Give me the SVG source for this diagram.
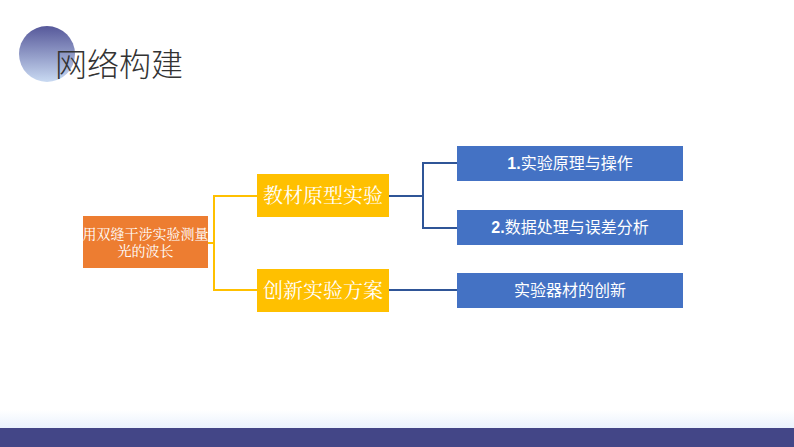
<svg xmlns="http://www.w3.org/2000/svg" width="794" height="447" viewBox="0 0 794 447">
<style>
.serif{font-family:"Liberation Serif","Noto Serif CJK SC","Noto Sans CJK SC",serif;fill:#fff;text-anchor:middle}
.sans{font-family:"Liberation Sans","Noto Sans CJK SC",sans-serif;fill:#fff;text-anchor:middle}
.yl{fill:none;stroke:#FFC000;stroke-width:2}
.bl{fill:none;stroke:#2F5597;stroke-width:2}
</style>
<defs>
<linearGradient id="cg" x1="0" y1="0" x2="0" y2="1">
<stop offset="0" stop-color="#56589a"/>
<stop offset="1" stop-color="#c9daf2"/>
</linearGradient>
<linearGradient id="fg" x1="0" y1="0" x2="0" y2="1">
<stop offset="0" stop-color="#ffffff"/>
<stop offset="1" stop-color="#eaf2fd"/>
</linearGradient>
</defs>
<rect width="794" height="447" fill="#fff"/>
<rect x="0" y="410" width="794" height="18" fill="url(#fg)"/>
<rect x="0" y="428" width="794" height="19" fill="#434687"/>
<g id="title">
<circle cx="47" cy="54" r="28" fill="url(#cg)"/>
<text x="55" y="76" font-family="'Noto Sans CJK SC',sans-serif" font-size="32" font-weight="300" fill="#333">网络构建</text>
</g>
<g id="connectors">
<polyline class="yl" points="208,243 214,243"/>
<polyline class="yl" points="257,196 214,196 214,290 257,290"/>
<polyline class="bl" points="389,196 423,196"/>
<polyline class="bl" points="457,163 423,163 423,228 457,228"/>
<polyline class="bl" points="389,290 457,290"/>
</g>
<g id="root">
<rect x="83" y="216" width="125" height="52" fill="#ED7D31"/>
<text class="serif" x="145.5" y="239" font-size="14">用双缝干涉实验测量</text>
<text class="serif" x="145.5" y="256" font-size="14">光的波长</text>
</g>
<g id="n1">
<rect x="257" y="174" width="132" height="43" fill="#FFC000"/>
<text class="serif" x="323" y="203" font-size="20">教材原型实验</text>
</g>
<g id="n2">
<rect x="257" y="269" width="132" height="43" fill="#FFC000"/>
<text class="serif" x="323" y="298" font-size="20">创新实验方案</text>
</g>
<g id="b1">
<rect x="457" y="146" width="226" height="35" fill="#4472C4"/>
<text class="sans" x="570" y="169" font-size="16"><tspan font-weight="bold">1.</tspan>实验原理与操作</text>
</g>
<g id="b2">
<rect x="457" y="210" width="226" height="35" fill="#4472C4"/>
<text class="sans" x="570" y="233" font-size="16"><tspan font-weight="bold">2.</tspan>数据处理与误差分析</text>
</g>
<g id="b3">
<rect x="457" y="273" width="226" height="35" fill="#4472C4"/>
<text class="sans" x="570" y="296" font-size="16">实验器材的创新</text>
</g>
</svg>
